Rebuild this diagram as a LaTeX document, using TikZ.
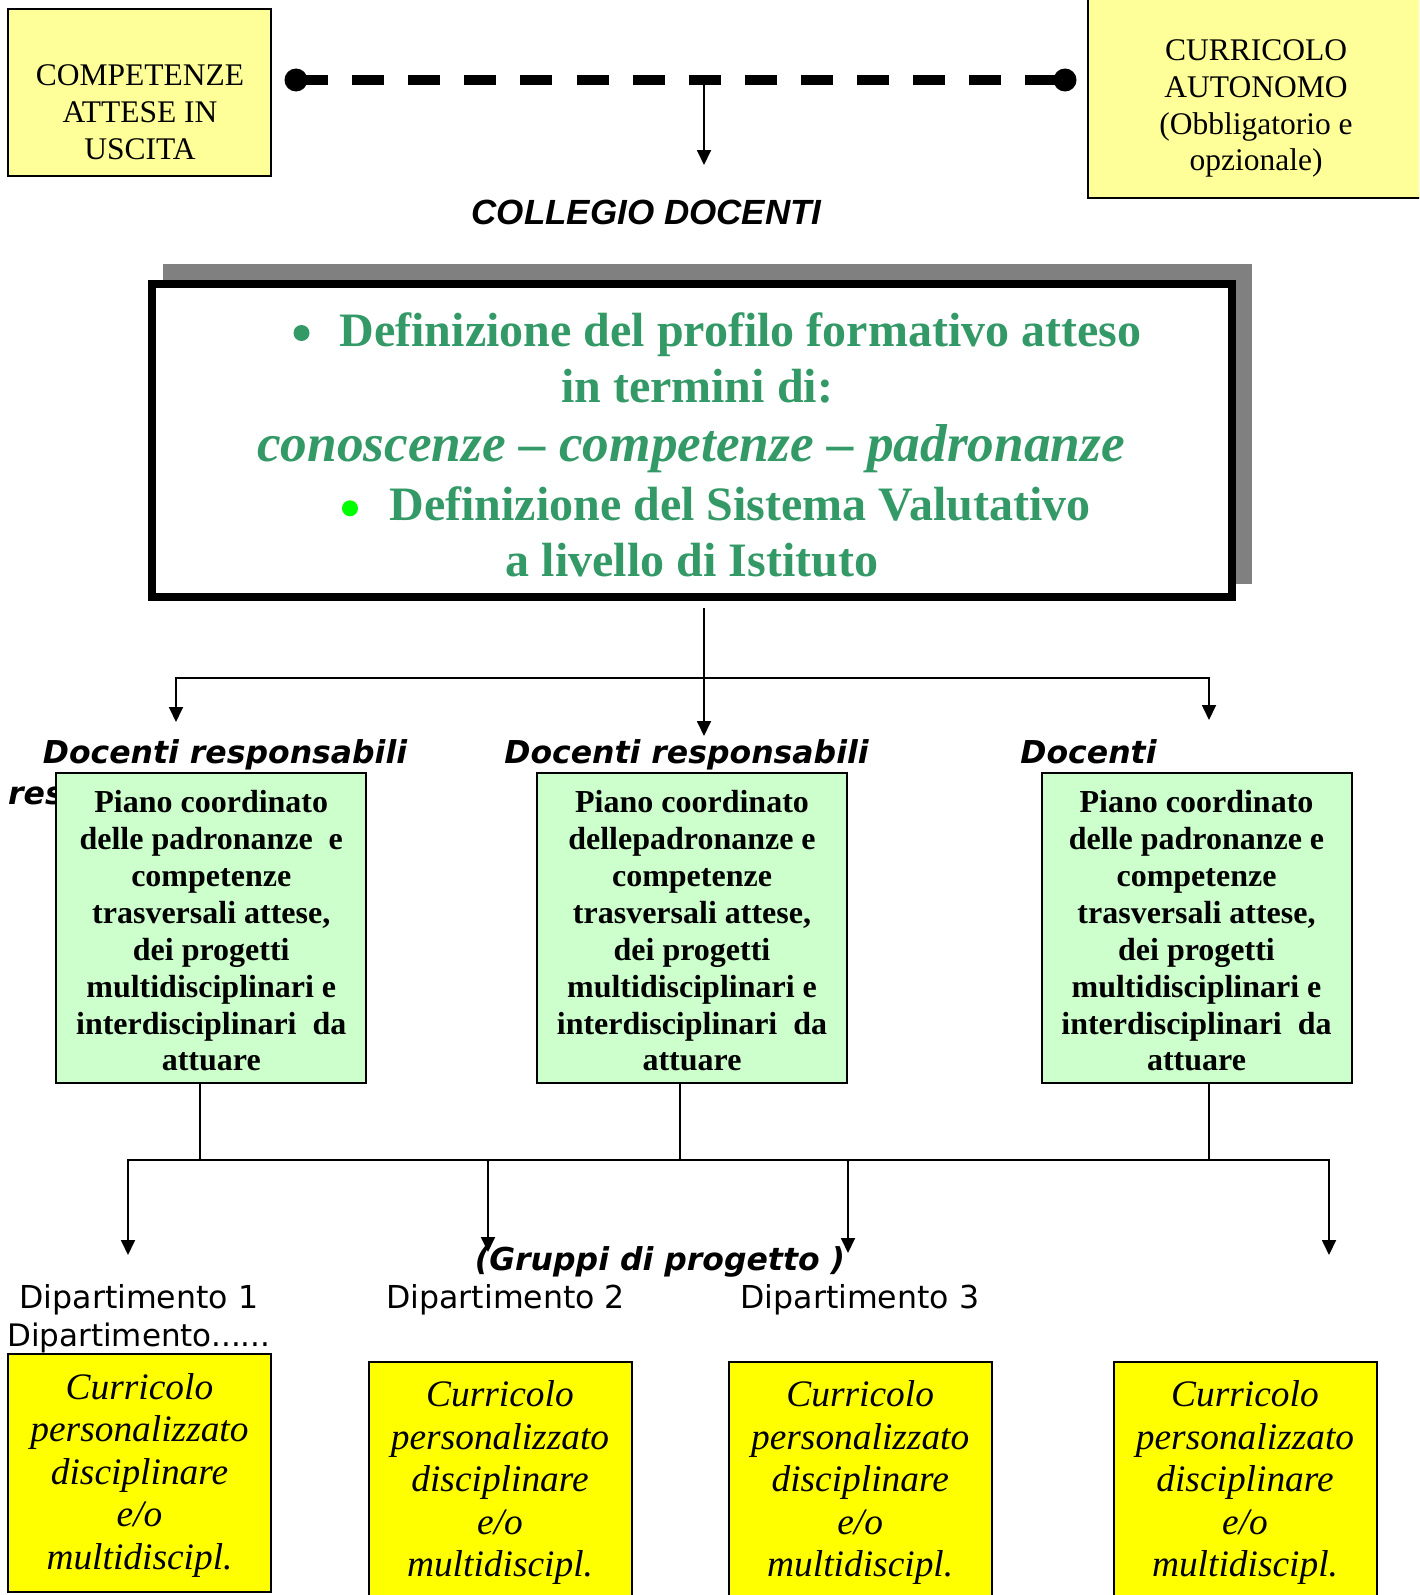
\documentclass[tikz,border=0pt]{standalone}
\usepackage{fontspec}
\setmainfont{Liberation Serif}
\newfontfamily\dvs{DejaVu Sans}
\newfontfamily\dvsbi{DejaVu Sans Bold Oblique}
\newfontfamily\lsans{Liberation Sans}
\usetikzlibrary{arrows.meta,calc}
\definecolor{lyellow}{HTML}{FFFF99}
\definecolor{lgreen}{HTML}{CCFFCC}
\definecolor{byellow}{HTML}{FFFF00}
\definecolor{tgreen}{HTML}{339966}
\definecolor{bgreen}{HTML}{00FF00}
\definecolor{shadowgray}{HTML}{808080}
\tikzset{
  tbox/.style={draw, line width=2pt, fill=lyellow, inner sep=0pt, outer sep=0pt},
  gbox/.style={draw, line width=2pt, fill=lgreen, align=center, inner sep=0pt,
    minimum width=310pt, minimum height=310pt,
    font=\fontsize{32}{36.9}\selectfont\bfseries},
  ybox/.style={draw, line width=2pt, fill=byellow, align=center, inner sep=0pt,
    minimum width=263pt, minimum height=238pt,
    font=\fontsize{37.4}{42.5}\selectfont\itshape},
  ttxt/.style={align=center, inner sep=0pt},
  mtxt/.style={anchor=base, inner sep=0pt, text=tgreen, font=\fontsize{48}{57}\selectfont\bfseries},
  lbl/.style={anchor=base, inner sep=0pt, font=\fontsize{31.5}{37}\selectfont\dvsbi},
  dep/.style={anchor=base, inner sep=0pt, font=\fontsize{31.6}{38}\selectfont\dvs},
  conn/.style={line width=1.8pt},
  arr/.style={conn, -{Triangle[length=15pt,width=14pt]}},
  bul/.style={circle, inner sep=0pt, minimum size=16pt},
}
\newcommand{\gtop}{\rule{0pt}{28pt}}
\newcommand{\ytop}{\rule{0pt}{30pt}}
\begin{document}
\begin{tikzpicture}[x=1pt,y=-1pt]
\useasboundingbox (0,0) rectangle (1419,1595);
\clip (0,0) rectangle (1419,1595);

% top boxes
\node[tbox, minimum width=263pt, minimum height=167pt] (comp) at (139.5,92.5) {};
\node[ttxt, font=\fontsize{31.5}{37}\selectfont] (comptext) at (140,112.3)
  {COMPETENZE\\ATTESE IN\\USCITA};
\node[tbox, minimum width=336pt, minimum height=207pt] (curr) at (1256,94.5) {};
\node[ttxt, font=\fontsize{31.5}{36.6}\selectfont] (currtext) at (1256,108.8)
  {CURRICOLO\\AUTONOMO\\(Obbligatorio e\\opzionale)};

% dashed link
\coordinate (dl) at (296,80);
\coordinate (dr) at (1065,80);
\coordinate (dm) at (704,80);
\coordinate (ct) at (704,165);
\draw[line width=10pt, dash pattern=on 32pt off 24.1pt] (dl) -- (dr);
\fill (dl) circle (11.5pt);
\fill (dr) circle (11.5pt);
\draw[arr] (dm) -- (ct);
\node[anchor=base, inner sep=0pt, font=\fontsize{35}{40}\selectfont\lsans\bfseries\itshape]
  (collegio) at (646.5,224) {COLLEGIO DOCENTI};

% main box
\fill[shadowgray] (163,264) rectangle (1252,584);
\node[draw, line width=8pt, fill=white, inner sep=0pt, minimum width=1080pt, minimum height=313pt]
  (main) at (692,440.5) {};
\node[bul, fill=tgreen] (bul1) at (301.5,333) {};
\node[mtxt] (m1) at (740.5,346.5) {Definizione del profilo formativo atteso};
\node[mtxt] (m2) at (697,402) {in termini di:};
\node[mtxt, font=\fontsize{53.3}{60}\selectfont\bfseries\itshape] (m3) at (691,461.5)
  {conoscenze – competenze – padronanze};
\node[bul, fill=bgreen] (bul2) at (350,508.3) {};
\node[mtxt] (m4) at (740,520.7) {Definizione del Sistema Valutativo};
\node[mtxt] (m5) at (692,576) {a livello di Istituto};

% connectors to the three groups
\coordinate (j1) at (704,678);
\coordinate (t1) at (176,722);
\coordinate (t2) at (704,736);
\coordinate (t3) at (1209,720);
\draw[arr] ($(main.south -| j1)+(0,7)$) -- (t2);
\draw[arr] (j1) -| (t1);
\draw[arr] (j1) -| (t3);

% labels
\node[lbl] (d1) at (225,763) {Docenti responsabili};
\node[lbl, anchor=base west] (res) at (8,804) {res};
\node[lbl] (d2) at (686.5,763) {Docenti responsabili};
\node[lbl] (d3) at (1088.5,763) {Docenti};

% green boxes
\node[gbox] (g1) at (211.25,928) {\gtop Piano coordinato\\delle padronanze\ \ e\\competenze\\trasversali attese,\\dei progetti\\multidisciplinari e\\interdisciplinari\ \ da\\attuare};
\node[gbox] (g2) at (692,928) {\gtop Piano coordinato\\dellepadronanze e\\competenze\\trasversali attese,\\dei progetti\\multidisciplinari e\\interdisciplinari\ \ da\\attuare};
\node[gbox] (g3) at (1196.5,928) {\gtop Piano coordinato\\delle padronanze e\\competenze\\trasversali attese,\\dei progetti\\multidisciplinari e\\interdisciplinari\ \ da\\attuare};

% lower connectors
\coordinate (s1) at (200,1160);
\coordinate (s2) at (680,1160);
\coordinate (s3) at (1209,1160);
\coordinate (b1) at (128,1255);
\coordinate (b2) at (488,1252);
\coordinate (b3) at (848,1253);
\coordinate (b4) at (1329,1255);
\draw[conn] (g1.south -| s1) -- (s1);
\draw[conn] (g2.south -| s2) -- (s2);
\draw[conn] (g3.south -| s3) -- (s3);
\draw[conn] (s1) -- (s3);
\draw[arr] (s1) -| (b1);
\draw[arr] (s3) -| (b4);
\draw[arr] (b2 |- s1) -- (b2);
\draw[arr] (b3 |- s1) -- (b3);

\node[lbl] (gruppi) at (660,1270) {(Gruppi di progetto )};
\node[dep] (dep1) at (138.9,1308) {Dipartimento 1};
\node[dep, font=\fontsize{31}{38}\selectfont\dvs] (depx) at (138.8,1346) {Dipartimento......};
\node[dep] (dep2) at (505.7,1308) {Dipartimento 2};
\node[dep] (dep3) at (859.9,1308) {Dipartimento 3};

% yellow boxes
\node[ybox] (y1) at (139.5,1473) {\ytop Curricolo\\personalizzato\\disciplinare\\e/o\\multidiscipl.};
\node[ybox] (y2) at (500,1480.7) {\ytop Curricolo\\personalizzato\\disciplinare\\e/o\\multidiscipl.};
\node[ybox] (y3) at (860.2,1480.7) {\ytop Curricolo\\personalizzato\\disciplinare\\e/o\\multidiscipl.};
\node[ybox] (y4) at (1245,1480.7) {\ytop Curricolo\\personalizzato\\disciplinare\\e/o\\multidiscipl.};
\end{tikzpicture}
\end{document}
